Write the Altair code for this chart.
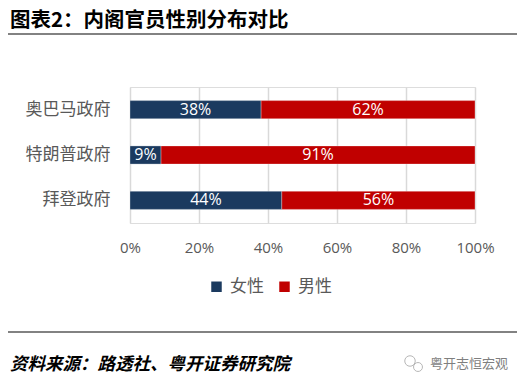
import altair as alt
import pandas as pd

governments = ["奥巴马政府", "特朗普政府", "拜登政府"]
female = [0.38, 0.09, 0.44]
male = [0.62, 0.91, 0.56]
series = ["女性", "男性"]
colors = ["#1B3A5F", "#C00000"]

rows = []
for g, f, m in zip(governments, female, male):
    rows.append({"gov": g, "sex": series[0], "value": f, "ord": 0})
    rows.append({"gov": g, "sex": series[1], "value": m, "ord": 1})
df = pd.DataFrame(rows)

CJK = "Noto Sans CJK SC"
GRAY = "#595959"

base = alt.Chart(df).transform_stack(
    stack="value", groupby=["gov"], as_=["v0", "v1"],
    sort=[alt.SortField("ord", order="ascending")]
).transform_calculate(mid="(datum.v0 + datum.v1) / 2")

yenc = alt.Y("gov:N", sort=governments, title=None,
             scale=alt.Scale(paddingInner=0.6, paddingOuter=0.3),
             axis=alt.Axis(labelFont=CJK, labelFontSize=17, labelColor=GRAY,
                           ticks=False, domain=False, labelPadding=20))

bars = base.mark_bar(stroke="white", strokeWidth=0.5, strokeOpacity=0.6).encode(
    x=alt.X("v0:Q", title=None,
            scale=alt.Scale(domain=[0, 1], nice=False, zero=True),
            axis=alt.Axis(format=".0%", values=[0, 0.2, 0.4, 0.6, 0.8, 1.0],
                          labelFont="Open Sans", labelFontSize=15, labelColor=GRAY,
                          labelFlush=False, labelOverlap=False,
                          ticks=False, domain=False, labelPadding=17,
                          grid=True, gridColor="#D9D9D9", gridWidth=1.5)),
    x2="v1:Q",
    y=yenc,
    color=alt.Color("sex:N", scale=alt.Scale(domain=series, range=colors),
                    sort=series,
                    legend=alt.Legend(title=None, orient="none", direction="horizontal",
                                      legendX=78, legendY=191,
                                      symbolType="square", symbolSize=110,
                                      symbolStrokeWidth=0,
                                      labelFont=CJK, labelFontSize=17, labelColor=GRAY,
                                      labelOffset=5, columnPadding=12)),
)

labels = base.mark_text(color="white", font="Open Sans", fontSize=16, baseline="middle").encode(
    x=alt.X("mid:Q"),
    y=alt.Y("gov:N", sort=governments),
    text=alt.Text("value:Q", format=".0%"),
)

ann = pd.DataFrame({"k": [0]})
title = alt.Chart(ann).mark_text(
    text="图表2：内阁官员性别分布对比", font=CJK, fontSize=20.5, fontWeight="bold",
    color="black", align="left", baseline="middle"
).encode(x=alt.value(-120), y=alt.value(-66))

rule_top = alt.Chart(ann).mark_rule(color="#595959", strokeWidth=1.5).encode(
    x=alt.value(-123), x2=alt.value(387), y=alt.value(-53))
rule_bot = alt.Chart(ann).mark_rule(color="#595959", strokeWidth=1.5).encode(
    x=alt.value(-123), x2=alt.value(387), y=alt.value(245))

source = alt.Chart(ann).mark_text(
    text="资料来源：路透社、粤开证券研究院", font=CJK, fontSize=17.5, fontWeight="bold",
    fontStyle="italic", color="black", align="left", baseline="middle"
).encode(x=alt.value(-120), y=alt.value(278))

brand = alt.Chart(ann).mark_text(
    text="粤开志恒宏观", font=CJK, fontSize=13, color="#7F7F7F",
    align="left", baseline="middle"
).encode(x=alt.value(300), y=alt.value(277))

icon1 = alt.Chart(ann).mark_point(shape="circle", size=110, color="#9A9A9A", strokeWidth=1).encode(
    x=alt.value(280), y=alt.value(274))
icon2 = alt.Chart(ann).mark_point(shape="circle", size=80, color="#9A9A9A", strokeWidth=1).encode(
    x=alt.value(288), y=alt.value(280))

chart = alt.layer(bars, labels, title, rule_top, rule_bot, source, brand, icon1, icon2).properties(
    width=345, height=136,
    autosize=alt.AutoSizeParams(type="none"),
    padding={"left": 122, "top": 79, "right": 45, "bottom": 159},
).configure_view(stroke=None).configure(background="white")

chart.save("out.html", embed_options={"renderer": "svg", "actions": False})
